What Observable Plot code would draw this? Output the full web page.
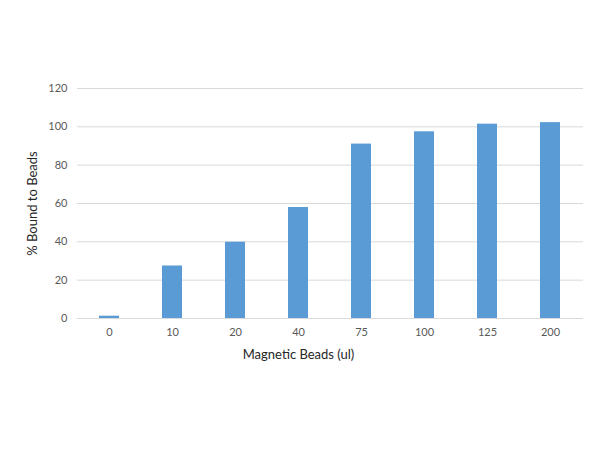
<!DOCTYPE html>
<html>
<head>
<meta charset="utf-8">
<script src="https://cdn.jsdelivr.net/npm/d3@7"></script>
<script src="https://cdn.jsdelivr.net/npm/@observablehq/plot@0.6"></script>
<style>
  html, body { margin: 0; padding: 0; background: #fff; }
</style>
</head>
<body>
<div id="chart"></div>
<script>
const categories = ["0", "10", "20", "40", "75", "100", "125", "200"];
const values = [1.2, 27.4, 39.8, 57.9, 91, 97.4, 101.4, 102.2];
const yTicks = [0, 20, 40, 60, 80, 100, 120];
const xTitle = "Magnetic Beads (ul)";
const yTitle = "% Bound to Beads";

const data = categories.map((c, i) => ({cat: c, v: values[i]}));

const chart = Plot.plot({
  width: 598,
  height: 450,
  marginLeft: 77,
  marginRight: 15,
  marginTop: 88,
  marginBottom: 132,
  style: {fontFamily: "Lato, 'Open Sans', sans-serif", background: "#fff"},
  x: {domain: categories, paddingInner: 0.68, paddingOuter: 0.34, label: null},
  y: {domain: [0, 120], ticks: yTicks, label: null},
  marks: [
    Plot.gridY(yTicks, {stroke: "#d9d9d9", strokeOpacity: 1, strokeWidth: 1}),
    Plot.barY(data, {x: "cat", y: "v", fill: "#5B9BD5"}),
    Plot.axisY(yTicks, {tickSize: 0, tickPadding: 10, fontSize: 11, fill: "#595959", label: null}),
    Plot.axisX({tickSize: 0, tickPadding: 10, fontSize: 11, fill: "#595959", label: null}),
    Plot.text([yTitle], {frameAnchor: "left", dx: -45, rotate: -90, textAnchor: "middle", fontSize: 13, fill: "#262626"}),
    Plot.text([xTitle], {frameAnchor: "bottom", dx: -32, dy: 40, textAnchor: "middle", fontSize: 13, fill: "#262626"})
  ]
});
document.getElementById("chart").appendChild(chart);
</script>
</body>
</html>
